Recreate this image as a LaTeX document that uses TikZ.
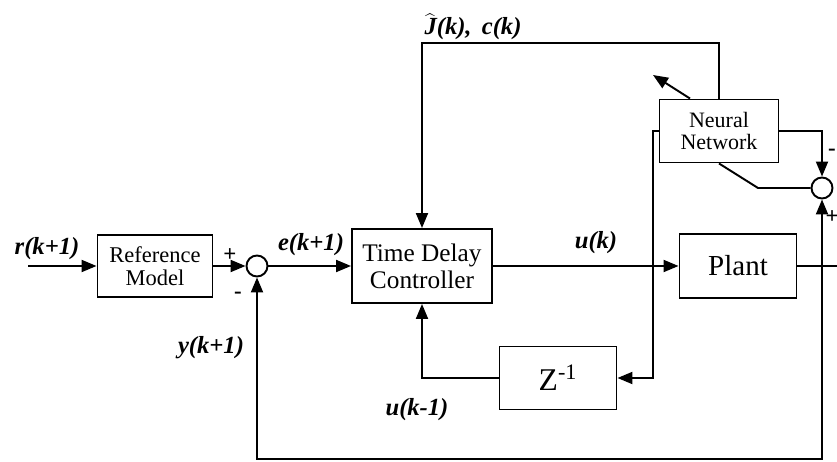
\documentclass[tikz,border=0pt]{standalone}
\usepackage{fontspec}
\setmainfont{Liberation Serif}
\usetikzlibrary{arrows.meta,positioning}

\begin{document}
\begin{tikzpicture}[x=1cm,y=1cm]
\tikzset{
  blocknode/.style={rectangle,draw,line width=1.1pt,inner sep=1pt,align=center},
  sumnode/.style={circle,draw,line width=1.1pt,minimum size=4.2mm,inner sep=0pt},
  signal/.style={line width=1.1pt},
  directed/.style={-{Triangle[length=3mm,width=2.4mm]},line width=1.1pt},
  siglabel/.style={font=\fontsize{14}{16}\selectfont\bfseries\itshape},
  signlabel/.style={font=\fontsize{13}{15}\selectfont\bfseries}
}
\useasboundingbox (0,0) rectangle (16.74,9.24);
\node[blocknode,minimum width=2.3cm,minimum height=1.24cm,font=\fontsize{12.8}{13}\selectfont] (n_ref) at (3.10,3.92) {Reference\\Model};
\node[sumnode] (n_sum1) at (5.14,3.92) {};
\node[blocknode,minimum width=2.8cm,minimum height=1.48cm,font=\fontsize{14.4}{15.5}\selectfont] (n_tdc) at (8.44,3.92) {Time Delay\\Controller};
\node[blocknode,minimum width=2.34cm,minimum height=1.28cm,font=\fontsize{16.5}{18}\selectfont] (n_plant) at (14.76,3.92) {Plant};
\node[blocknode,minimum width=2.38cm,minimum height=1.26cm,font=\fontsize{12.5}{13}\selectfont] (n_nn) at (14.38,6.62) {Neural\\Network};
\node[sumnode] (n_sum2) at (16.44,5.48) {};
\node[blocknode,minimum width=2.34cm,minimum height=1.26cm,font=\fontsize{18}{20}\selectfont] (n_delay) at (11.16,1.68) {Z\textsuperscript{-1}};
\coordinate (c_in) at (0.56,3.92);
\coordinate (c_out) at (16.74,3.92);
\coordinate (c_ytap) at (16.44,3.92);
\coordinate (c_fb) at (16.44,0.06);
\coordinate (c_utap) at (13.06,3.92);
\coordinate (c_jtop) at (8.44,8.38);
\coordinate (c_err) at (15.16,5.48);
\coordinate (c_adapt) at (13.06,7.74);
\draw[directed] (c_in) -- (n_ref);
\draw[directed] (n_ref) -- (n_sum1);
\draw[directed] (n_sum1) -- (n_tdc);
\draw[directed] (n_tdc) -- (n_plant);
\draw[signal] (n_plant) -- (c_out);
\draw[directed] (c_ytap) -- (n_sum2);
\draw[directed] (c_ytap) -- (c_fb) -| (n_sum1);
\draw[directed] (n_nn.east) -| (n_sum2);
\draw[signal] (n_sum2) -- (c_err) -- (n_nn.south);
\draw[directed] (n_nn.north) |- (c_jtop) -- (n_tdc);
\draw[directed] ([xshift=-0.58cm]n_nn.north) -- (c_adapt);
\draw[signal] (c_utap) |- (n_nn.west);
\draw[directed] (c_utap) |- (n_delay);
\draw[directed] (n_delay) -| (n_tdc);
% signal names
\node[siglabel] (l_r) at (0.94,4.26) {r(k+1)};
\node[siglabel] (l_e) at (6.22,4.34) {e(k+1)};
\node[siglabel] (l_u) at (11.92,4.38) {u(k)};
\node[siglabel] (l_y) at (4.22,2.28) {y(k+1)};
\node[siglabel] (l_uold) at (8.34,1.04) {u(k-1)};
\node[siglabel] (l_j) at (9.46,8.70) {\(\widehat{\mbox{\itshape J}}\)(k),\, c(k)};
\node[signlabel] (s_plus1) at (4.60,4.14) {+};
\node[signlabel] (s_minus1) at (4.76,3.34) {-};
\node[signlabel] (s_minus2) at (16.64,6.20) {-};
\node[signlabel] (s_plus2) at (16.64,4.90) {+};
\end{tikzpicture}
\end{document}
